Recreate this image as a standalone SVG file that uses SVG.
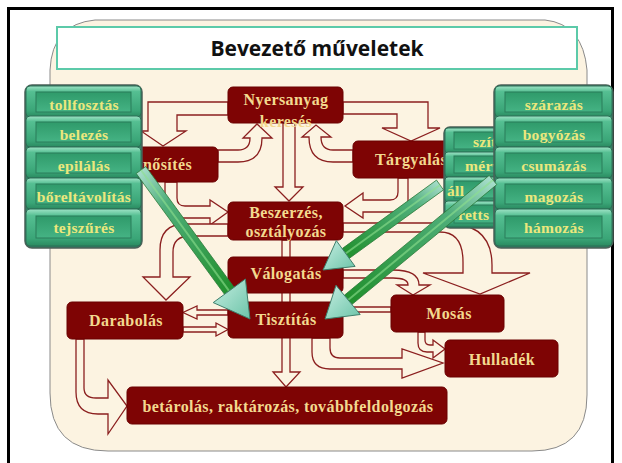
<svg xmlns="http://www.w3.org/2000/svg" width="622" height="463" viewBox="0 0 622 463">
<defs>
<style>
.box{fill:#7e0404;stroke:#6a0000;stroke-width:1}
.bt{font-family:"Liberation Serif","Times New Roman",serif;font-weight:bold;font-size:16px;fill:#f3d98f;text-anchor:middle;letter-spacing:0.4px}
.con{fill:#fcf4e2;stroke:#8b1f1f;stroke-width:1.3;stroke-linejoin:miter}
.st{font-family:"Liberation Serif","Times New Roman",serif;font-weight:bold;font-size:15.5px;fill:#ece77c;text-anchor:middle;letter-spacing:0.3px}
.btnO{fill:url(#gOut);stroke:#2c6f56;stroke-width:1}
.btnI{fill:url(#gIn);stroke:#2a7d5a;stroke-width:1}
.stk{fill:#2f7e62;stroke:#4d5f58;stroke-width:1.5}
.gh{fill:url(#gHead);stroke:#3f7f6c;stroke-width:1}
</style>
<linearGradient id="gOut" x1="0" y1="0" x2="0" y2="1">
<stop offset="0" stop-color="#9fe3c6"/>
<stop offset="0.18" stop-color="#55bf92"/>
<stop offset="0.8" stop-color="#3aa577"/>
<stop offset="1" stop-color="#2a8a60"/>
</linearGradient>
<linearGradient id="gIn" x1="0" y1="0" x2="0" y2="1">
<stop offset="0" stop-color="#2f9a6a"/>
<stop offset="1" stop-color="#45b384"/>
</linearGradient>
<linearGradient id="gHead" x1="0" y1="0" x2="1" y2="1">
<stop offset="0" stop-color="#c6eee2"/>
<stop offset="1" stop-color="#6cc4a8"/>
</linearGradient>
<linearGradient id="gShL" x1="0" y1="0" x2="1" y2="1">
<stop offset="0" stop-color="#b3e4d6"/>
<stop offset="0.3" stop-color="#4fae7a"/>
<stop offset="1" stop-color="#1f8f2a"/>
</linearGradient>
<linearGradient id="gShR" x1="1" y1="0" x2="0" y2="1">
<stop offset="0" stop-color="#b3e4d6"/>
<stop offset="0.3" stop-color="#4fae7a"/>
<stop offset="1" stop-color="#1f8f2a"/>
</linearGradient>
</defs>

<rect x="0" y="0" width="622" height="463" fill="#ffffff"/>
<path d="M8.5,470 V8.5 H612.5 V470" fill="none" stroke="#000" stroke-width="3"/>

<g id="background">
<path d="M50,70 Q52,24 95,20 H545 Q583,24 587,70 V395 Q587,451 532,451 H108 Q50,451 50,393 Z" fill="#fcf3e1" stroke="#8a8a8a" stroke-width="1"/>
</g>

<g id="title">
<rect x="57" y="27" width="520" height="42" fill="#ffffff" stroke="#5ccaa9" stroke-width="2"/>
<text x="317" y="56" font-family="'Open Sans','Liberation Sans',sans-serif" font-weight="700" font-size="21" fill="#111" text-anchor="middle">Bevezető műveletek</text>
</g>

<g id="connectors">
<path class="con" d="M228,102 H148 V131 H141 L163,146 L186,131 H177 V115 H228 Z"/>
<path class="con" d="M218,150 H238 Q250,150 250,138 H243 L257,124 L272,138 H262 Q262,162 238,162 H218 Z"/>
<path class="con" d="M343,102 H428 V128 H440 L411,141 L382,128 H397 V114 H343 Z"/>
<path class="con" d="M353,150 H333 Q321,150 321,137 H331 L316,125 L302,137 H309 Q309,162 333,162 H353 Z"/>
<path class="con" d="M283,123 V187 H275 L289,201 L303,187 H295 V123 Z"/>
<path class="con" d="M165,182 V200 Q165,218 183,218 H210 V225 L228,212 L210,200 V206 H185 Q177,206 177,198 V182 Z"/>
<path class="con" d="M408,178 V200 Q408,212 396,212 H363 V218 L345,206 L363,193 V200 H390 Q398,200 398,192 V178 Z"/>
<path class="con" d="M282,240 V372 H273 L286,387 L300,372 H290 V240 Z"/>
<path class="con" d="M228,224 H185 Q160,224 160,250 V277 H143 L166,300 L190,277 H173 V252 Q173,236 190,236 H228 Z"/>
<path class="con" d="M228,310 H197 V306 L183,312.5 L197,319 V315 H228 Z"/>
<path class="con" d="M183,327 H216 V323 L228,329.5 L216,336 V332 H183 Z"/>
<path class="con" d="M76,339 V392 Q76,414 98,414 H108 V434 L127,406 L108,380 V398 H96 Q84,398 84,388 V339 Z"/>
<path class="con" d="M343,223 H445 Q492,223 492,265 V273 H530 L480,294 L423,273 H463 V262 Q463,232 440,232 H343 Z"/>
<path class="con" d="M343,270 H393 Q419,270 419,285 H430 L413,295 L397,285 H408 Q408,278 393,278 H343 Z"/>
<path class="con" d="M343,307 H391 V312 H343 Z"/>
<path class="con" d="M312,338 V352 Q312,369 330,369 H402 V378 L443,363 L402,349 V358 H340 Q330,358 330,348 V338 Z"/>
<path class="con" d="M418,332 V343 Q418,352 427,352 H433 V358 L445,349 L433,340 V345 H430 Q425,345 425,340 V332 Z"/>
</g>

<g id="nyersanyag">
<rect class="box" x="228" y="87" width="115" height="36" rx="5"/>
<text class="bt" x="286" y="105">Nyersanyag</text>
<text class="bt" x="286" y="127">keresés</text>
</g>
<g id="minosites">
<rect class="box" x="115" y="147" width="103" height="35" rx="5"/>
<text class="bt" x="143" y="170" style="text-anchor:start">nősítés</text>
</g>
<g id="targyalas">
<rect class="box" x="353" y="141" width="100" height="37" rx="5"/>
<text class="bt" x="375" y="165" style="text-anchor:start">Tárgyalás</text>
</g>
<g id="beszerzes">
<rect class="box" x="228" y="202" width="115" height="38" rx="5"/>
<text class="bt" x="286" y="218">Beszerzés,</text>
<text class="bt" x="286" y="237">osztályozás</text>
</g>
<g id="valogatas">
<rect class="box" x="228" y="257" width="115" height="36" rx="5"/>
<text class="bt" x="286" y="279">Válogatás</text>
</g>
<g id="tisztitas">
<rect class="box" x="228" y="302" width="115" height="36" rx="5"/>
<text class="bt" x="286" y="325">Tisztítás</text>
</g>
<g id="darabolas">
<rect class="box" x="67" y="302" width="116" height="37" rx="5"/>
<text class="bt" x="126" y="326">Darabolás</text>
</g>
<g id="mosas">
<rect class="box" x="391" y="295" width="113" height="37" rx="5"/>
<text class="bt" x="449" y="319">Mosás</text>
</g>
<g id="hulladek">
<rect class="box" x="445" y="340" width="113" height="37" rx="5"/>
<text class="bt" x="502" y="365">Hulladék</text>
</g>
<g id="betarolas">
<rect class="box" x="127" y="387" width="320" height="37" rx="5"/>
<text class="bt" x="288" y="412">betárolás, raktározás, továbbfeldolgozás</text>
</g>

<g id="stack-middle">
<rect class="stk" x="444" y="127" width="70" height="101" rx="6"/>
<rect class="btnO" x="445" y="128" width="68" height="25" rx="3"/>
<rect class="btnI" x="454" y="132" width="60" height="17"/>
<text class="st" x="473" y="147" style="text-anchor:start">szít</text>
<rect class="btnO" x="445" y="152" width="68" height="25" rx="3"/>
<rect class="btnI" x="454" y="156" width="60" height="17"/>
<text class="st" x="465" y="171" style="text-anchor:start">mérv</text>
<rect class="btnO" x="445" y="177" width="68" height="25" rx="3"/>
<rect class="btnI" x="454" y="181" width="60" height="17"/>
<text class="st" x="447" y="196" style="text-anchor:start">áll</text>
<rect class="btnO" x="445" y="201" width="68" height="26" rx="3"/>
<rect class="btnI" x="454" y="205" width="60" height="18"/>
<text class="st" x="458" y="220" style="text-anchor:start">retts</text>
</g>

<g id="stack-left">
<rect class="stk" x="25" y="85" width="117" height="163" rx="7"/>
<rect class="btnO" x="26" y="86" width="115" height="31" rx="4"/>
<rect class="btnI" x="36" y="92" width="95" height="20"/>
<text class="st" x="84" y="110">tollfosztás</text>
<rect class="btnO" x="26" y="116" width="115" height="31" rx="4"/>
<rect class="btnI" x="36" y="122" width="95" height="20"/>
<text class="st" x="84" y="140">belezés</text>
<rect class="btnO" x="26" y="147" width="115" height="31" rx="4"/>
<rect class="btnI" x="36" y="153" width="95" height="20"/>
<text class="st" x="84" y="171">epilálás</text>
<rect class="btnO" x="26" y="178" width="115" height="31" rx="4"/>
<rect class="btnI" x="36" y="184" width="95" height="20"/>
<text class="st" x="84" y="202">bőreltávolítás</text>
<rect class="btnO" x="26" y="209" width="115" height="37" rx="4"/>
<rect class="btnI" x="36" y="216" width="95" height="22"/>
<text class="st" x="84" y="233">tejszűrés</text>
</g>

<g id="stack-right">
<rect class="stk" x="494" y="85" width="119" height="163" rx="7"/>
<rect class="btnO" x="495" y="86" width="117" height="31" rx="4"/>
<rect class="btnI" x="505" y="92" width="97" height="20"/>
<text class="st" x="554" y="110">szárazás</text>
<rect class="btnO" x="495" y="116" width="117" height="31" rx="4"/>
<rect class="btnI" x="505" y="122" width="97" height="20"/>
<text class="st" x="554" y="140">bogyózás</text>
<rect class="btnO" x="495" y="147" width="117" height="31" rx="4"/>
<rect class="btnI" x="505" y="153" width="97" height="20"/>
<text class="st" x="554" y="171">csumázás</text>
<rect class="btnO" x="495" y="178" width="117" height="31" rx="4"/>
<rect class="btnI" x="505" y="184" width="97" height="20"/>
<text class="st" x="554" y="202">magozás</text>
<rect class="btnO" x="495" y="209" width="117" height="37" rx="4"/>
<rect class="btnI" x="505" y="216" width="97" height="22"/>
<text class="st" x="554" y="233">hámozás</text>
</g>

<g id="green-arrows">
<polygon points="145.8,166.5 234.1,287.3 224.5,294.3 136.2,173.5" fill="url(#gShL)" stroke="#2c7a3a" stroke-width="0.8"/>
<line x1="141" y1="170" x2="229" y2="290.8" stroke="#8ee08e" stroke-width="2" stroke-opacity="0.6"/>
<polygon class="gh" points="245.4,279 250,319 213.2,302.6"/>
<polygon points="436.5,180.1 342.2,248.6 349.2,258.4 443.5,189.9" fill="url(#gShR)" stroke="#2c7a3a" stroke-width="0.8"/>
<line x1="440" y1="185" x2="345.7" y2="253.5" stroke="#8ee08e" stroke-width="2" stroke-opacity="0.6"/>
<polygon class="gh" points="336.3,240.6 323,270 355.1,266.4"/>
<polygon points="489.2,175.4 344.3,295.3 351.9,304.5 496.8,184.6" fill="url(#gShR)" stroke="#2c7a3a" stroke-width="0.8"/>
<line x1="493" y1="180" x2="348.1" y2="299.9" stroke="#8ee08e" stroke-width="2" stroke-opacity="0.6"/>
<polygon class="gh" points="336,285.3 325,319 360.2,314.5"/>
</g>
</svg>
